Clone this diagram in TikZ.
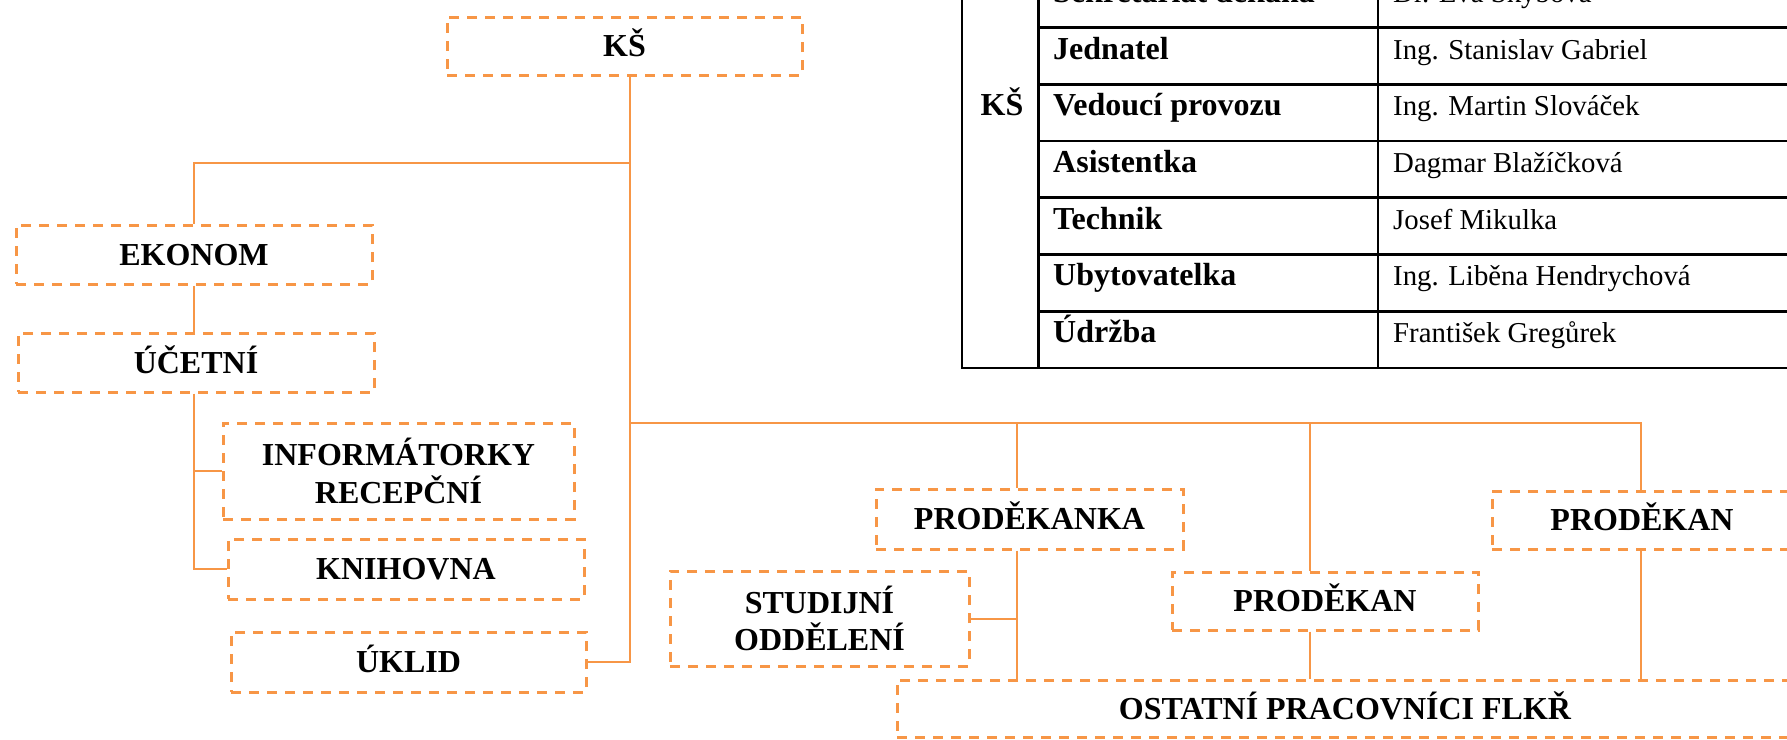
\documentclass[tikz,border=0pt]{standalone}
\usepackage{fontspec}
\setmainfont{Liberation Serif}
\definecolor{org}{HTML}{F79646}
\tikzset{
 box/.style={draw=org, line width=3pt, dash pattern=on 10pt off 8pt, inner sep=0pt, rectangle,
   font=\bfseries\fontsize{32}{37.6}\selectfont, align=center},
 one/.style={text height=21pt, text depth=0pt},
 conn/.style={draw=org, line width=2pt},
 tline/.style={line width=2.7pt, black},
 tb/.style={anchor=base west, inner sep=0pt, font=\bfseries\fontsize{32}{38}\selectfont},
 tr/.style={anchor=base west, inner sep=0pt, font=\fontsize{28.8}{34}\selectfont},
}
\begin{document}
\begin{tikzpicture}[x=1pt,y=-1pt]
\useasboundingbox (0,0) rectangle (1787,739);
\clip (0,0) rectangle (1787,739);
\fill[white] (0,0) rectangle (1787,739);

% ---------- table ----------
\draw[tline] (962,-200) -- (962,368) -- (1800,368);
\draw[tline] (1038.5,-200) -- (1038.5,368);
\draw[tline] (1378,-200) -- (1378,368);
\foreach \yy in {27.7,84.4,141.1,197.8,254.5,311.2}
  \draw[tline] (1038.5,\yy) -- (1800,\yy);
\node[tb, anchor=base] (tks) at (1002,115.5) {KŠ};
\node[tb] (r0a) at (1053,2.5) {Sekretariát děkana};
\node[tr] (r0b) at (1393,2.5) {Dr. Eva Skýbová};
\node[tb] (r1a) at (1053,59) {Jednatel};
\node[tr] (r1b) at (1393,59) {Ing. Stanislav Gabriel};
\node[tb] (r2a) at (1053,115.7) {Vedoucí provozu};
\node[tr] (r2b) at (1393,115.7) {Ing. Martin Slováček};
\node[tb] (r3a) at (1053,172.4) {Asistentka};
\node[tr] (r3b) at (1393,172.4) {Dagmar Blažíčková};
\node[tb] (r4a) at (1053,229.1) {Technik};
\node[tr] (r4b) at (1393,229.1) {Josef Mikulka};
\node[tb] (r5a) at (1053,285.8) {Ubytovatelka};
\node[tr] (r5b) at (1393,285.8) {Ing. Liběna Hendrychová};
\node[tb] (r6a) at (1053,342.5) {Údržba};
\node[tr] (r6b) at (1393,342.5) {František Gregůrek};

% ---------- boxes ----------
\node[box, one, minimum width=355pt, minimum height=58pt] (ks) at (624.5,46) {KŠ};
\node[box, one, minimum width=356pt, minimum height=59pt] (ekonom) at (194,254.5) {EKONOM};
\node[box, one, minimum width=356pt, minimum height=59pt] (ucetni) at (196,362.5) {ÚČETNÍ};
\node[box, minimum width=351pt, minimum height=96pt] (info) at (398.5,471) {INFORMÁTORKY\\RECEPČNÍ};
\node[box, one, minimum width=356pt, minimum height=60pt] (knihovna) at (406,569) {KNIHOVNA};
\node[box, one, minimum width=355pt, minimum height=60pt] (uklid) at (408.5,662) {ÚKLID};
\node[box, one, minimum width=307pt, minimum height=60pt] (prodekanka) at (1029.5,519) {PRODĚKANKA};
\node[box, minimum width=299pt, minimum height=95pt] (studijni) at (819.5,618.5) {STUDIJNÍ\\ODDĚLENÍ};
\node[box, one, minimum width=306pt, minimum height=58pt] (prod2) at (1325,601) {PRODĚKAN};
\node[box, one, minimum width=300pt, minimum height=58pt] (prod3) at (1642,520) {PRODĚKAN};
\node[box, one, minimum width=896pt, minimum height=57pt] (ostatni) at (1345,708.5) {OSTATNÍ PRACOVNÍCI FLKŘ};

% ---------- connectors ----------
\coordinate (tr0) at (630,163);
\coordinate (bar) at (630,423);
\coordinate (d1) at (1017,423);
\coordinate (d2) at (1310,423);
\coordinate (d3) at (1641,423);
\coordinate (lb) at (194,0);

\draw[conn] (ks.south -| tr0) -- (tr0 |- uklid.east) -- (uklid.east);
\draw[conn] (tr0) -- (ekonom.north |- tr0) -- (ekonom.north);
\draw[conn] (ekonom.south) -- (ekonom.south |- ucetni.north);
\draw[conn] (lb |- ucetni.south) -- (lb |- knihovna.west) -- (knihovna.west);
\draw[conn] (lb |- info.west) -- (info.west);
\draw[conn] (bar) -- (d3) -- (d3 |- prod3.north);
\draw[conn] (d1) -- (d1 |- prodekanka.north);
\draw[conn] (d2) -- (d2 |- prod2.north);
\draw[conn] (d1 |- prodekanka.south) -- (d1 |- ostatni.north);
\draw[conn] (studijni.east) -- (d1 |- studijni.east);
\draw[conn] (d2 |- prod2.south) -- (d2 |- ostatni.north);
\draw[conn] (d3 |- prod3.south) -- (d3 |- ostatni.north);
\end{tikzpicture}
\end{document}
